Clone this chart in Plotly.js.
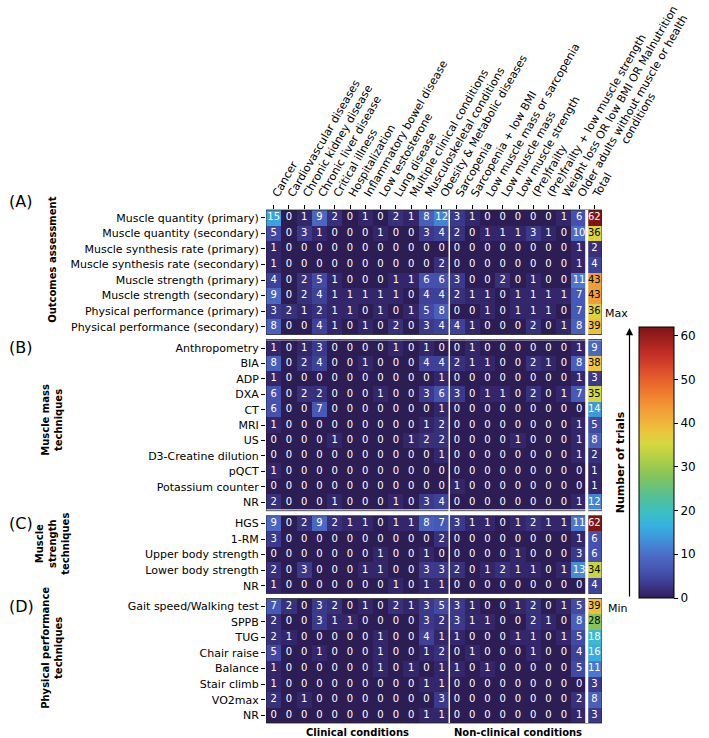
<!DOCTYPE html>
<html>
<head>
<meta charset="utf-8">
<script src="https://cdn.plot.ly/plotly-3.0.1.min.js"></script>
<style>html,body{margin:0;padding:0;background:#fff;}#chart{width:709px;height:738px;}</style>
</head>
<body>
<div id="chart"></div>
<script>
// ---------- data ----------
const columns = ["Cancer","Cardiovascular diseases","Chronic kidney disease","Chronic liver disease","Critical illness","Hospitalization","Inflammatory bowel disease","Low testosterone","Lung disease","Multiple clinical conditions","Musculoskeletal conditions","Obesity & Metabolic diseases","Sarcopenia","Sarcopenia + low BMI","Low muscle mass or sarcopenia","Low muscle mass","Low muscle strength","(Pre)frailty","(Pre)frailty + low muscle strength","Weight loss OR low BMI OR Malnutrition","Older adults without muscle or health","Total"];
const columnSecondLines = {20: "conditions"};

const outcomesRows = ["Muscle quantity (primary)","Muscle quantity (secondary)","Muscle synthesis rate (primary)","Muscle synthesis rate (secondary)","Muscle strength (primary)","Muscle strength (secondary)","Physical performance (primary)","Physical performance (secondary)"];
const outcomesValues = [
  [15,0,1,9,2,0,1,0,2,1,8,12, 3,1,0,0,0,0,0,1,6, 62],
  [5,0,3,1,0,0,0,1,0,0,3,4, 2,0,1,1,1,3,1,0,10, 36],
  [1,0,0,0,0,0,0,0,0,0,0,0, 0,0,0,0,0,0,0,0,1, 2],
  [1,0,0,0,0,0,0,0,0,0,0,2, 0,0,0,0,0,0,0,0,1, 4],
  [4,0,2,5,1,0,0,0,1,1,6,6, 3,0,0,2,0,1,0,0,11, 43],
  [9,0,2,4,1,1,1,1,1,0,4,4, 2,1,1,0,1,1,1,1,7, 43],
  [3,2,1,2,1,1,0,1,0,1,5,8, 0,0,1,0,1,1,1,0,7, 36],
  [8,0,0,4,1,0,1,0,2,0,3,4, 4,1,0,0,0,2,0,1,8, 39]
];

const massRows = ["Anthropometry","BIA","ADP","DXA","CT","MRI","US","D3-Creatine dilution","pQCT","Potassium counter","NR"];
const massValues = [
  [1,0,1,3,0,0,0,0,1,0,1,0, 0,1,0,0,0,0,0,0,1, 9],
  [8,0,2,4,0,0,1,0,0,0,4,4, 2,1,1,0,0,2,1,0,8, 38],
  [1,0,0,0,0,0,0,0,0,0,0,1, 0,0,0,0,0,0,0,0,1, 3],
  [6,0,2,2,0,0,0,1,0,0,3,6, 3,0,1,1,0,2,0,1,7, 35],
  [6,0,0,7,0,0,0,0,0,0,0,1, 0,0,0,0,0,0,0,0,0, 14],
  [1,0,0,0,0,0,0,0,0,0,1,2, 0,0,0,0,0,0,0,0,1, 5],
  [0,0,0,0,1,0,0,0,0,1,2,2, 0,0,0,0,1,0,0,0,1, 8],
  [0,0,0,0,0,0,0,0,0,0,0,1, 0,0,0,0,0,0,0,0,1, 2],
  [1,0,0,0,0,0,0,0,0,0,0,0, 0,0,0,0,0,0,0,0,0, 1],
  [0,0,0,0,0,0,0,0,0,0,0,0, 1,0,0,0,0,0,0,0,0, 1],
  [2,0,0,0,1,0,0,0,1,0,3,4, 0,0,0,0,0,0,0,0,1, 12]
];

const strengthRows = ["HGS","1-RM","Upper body strength","Lower body strength","NR"];
const strengthValues = [
  [9,0,2,9,2,1,1,0,1,1,8,7, 3,1,1,0,1,2,1,1,11, 62],
  [3,0,0,0,0,0,0,0,0,0,0,2, 0,0,0,0,0,0,0,0,1, 6],
  [0,0,0,0,0,0,0,1,0,0,1,0, 0,0,0,0,1,0,0,0,3, 6],
  [2,0,3,0,0,0,1,1,0,0,3,3, 2,0,1,2,1,1,0,1,13, 34],
  [1,0,0,0,0,0,0,0,1,0,1,1, 0,0,0,0,0,0,0,0,0, 4]
];

const perfRows = ["Gait speed/Walking test","SPPB","TUG","Chair raise","Balance","Stair climb","VO2max","NR"];
const perfValues = [
  [7,2,0,3,2,0,1,0,2,1,3,5, 3,1,0,0,1,2,0,1,5, 39],
  [2,0,0,3,1,1,0,0,0,0,3,2, 3,1,1,0,0,2,1,0,8, 28],
  [2,1,0,0,0,0,0,1,0,0,4,1, 1,0,0,0,1,1,0,1,5, 18],
  [5,0,0,1,0,0,0,1,0,0,1,2, 0,1,0,0,0,1,0,0,4, 16],
  [1,0,0,0,0,0,0,1,0,1,0,1, 1,0,1,0,0,0,0,0,5, 11],
  [1,0,0,0,0,0,0,0,0,0,1,1, 0,0,0,0,0,0,0,0,0, 3],
  [2,0,1,0,0,0,0,0,0,0,0,3, 0,0,0,0,0,0,0,0,2, 8],
  [0,0,0,0,0,0,0,0,0,0,1,1, 0,0,0,0,0,0,0,0,1, 3]
];

const groupLetters = ["(A)","(B)","(C)","(D)"];
const groupTitles = ["Outcomes assessment","Muscle mass<br>techniques","Muscle<br>strength<br>techniques","Physical performance<br>techniques"];
const bottomLabels = ["Clinical conditions","Non-clinical conditions"];
const colorbarTicks = [0,10,20,30,40,50,60];

// ---------- styling ----------
const colorscale = [
  [0.00,'#2d1d55'],[0.016,'#34266a'],[0.05,'#3b3a8e'],[0.10,'#4553b0'],
  [0.16,'#4b6ec8'],[0.22,'#3f95dc'],[0.27,'#36b2e0'],[0.32,'#3cc0c0'],
  [0.38,'#55c090'],[0.45,'#85c45a'],[0.52,'#b5d044'],[0.57,'#d6d83e'],
  [0.62,'#eec23c'],[0.69,'#f2a038'],[0.76,'#ef7a2e'],[0.83,'#e0522a'],
  [0.90,'#c42e26'],[1.00,'#7e1414']
];
const W = 709, H = 738;
const M = {l:266, r:101, t:210, b:15};
const plotW = W - M.l - M.r, plotH = H - M.t - M.b;
const gapPx = 5;
const groups = [
  {rows: outcomesRows, vals: outcomesValues},
  {rows: massRows, vals: massValues},
  {rows: strengthRows, vals: strengthValues},
  {rows: perfRows, vals: perfValues}
];
const totalRows = groups.reduce((s,g)=>s+g.rows.length,0);
const rowPx = (plotH - gapPx*(groups.length-1)) / totalRows;
const colPx = plotW / columns.length;

const xIdx = columns.map((_,i)=>i);
const traces = [];
const layout = {
  width: W, height: H, margin: M,
  paper_bgcolor: '#fff', plot_bgcolor: '#fff',
  font: {family: 'DejaVu Sans', size: 11, color: '#000'},
  showlegend: false,
  xaxis: {
    anchor: 'y', side: 'top', range: [-0.5, columns.length - 0.5],
    tickmode: 'array', tickvals: xIdx, ticktext: columns,
    tickangle: -60, ticks: 'outside', ticklen: 4, tickcolor: '#000',
    tickfont: {size: 11}, showgrid: false, zeroline: false, showline: false
  },
  shapes: [], annotations: []
};

let topPx = 0;
const pxToPaperY = px => 1 - px/plotH;   // px measured from plot top
groups.forEach((g, gi) => {
  const n = g.rows.length;
  const y0px = topPx, y1px = topPx + n*rowPx;
  const axName = gi === 0 ? 'yaxis' : 'yaxis' + (gi+1);
  const axRef = gi === 0 ? 'y' : 'y' + (gi+1);
  layout[axName] = {
    domain: [pxToPaperY(y1px), pxToPaperY(y0px)],
    anchor: 'x', type: 'category', autorange: 'reversed',
    ticks: 'outside', ticklen: 4, tickcolor: '#000', tickfont: {size: 11},
    showgrid: false, zeroline: false, showline: false
  };
  traces.push({
    type: 'heatmap', x: xIdx, y: g.rows, z: g.vals, xaxis: 'x', yaxis: axRef,
    colorscale: colorscale, zmin: 0, zmax: 62, showscale: gi === 0,
    hoverinfo: 'skip',
    colorbar: {
      x: (646 - M.l)/plotW, xanchor: 'left', y: pxToPaperY(462.5 - M.t), yanchor: 'middle',
      len: 271, lenmode: 'pixels', thickness: 35, thicknessmode: 'pixels',
      outlinewidth: 1, outlinecolor: '#000', ticks: 'outside', ticklen: 4, tickcolor: '#000',
      tickmode: 'array', tickvals: colorbarTicks, tickfont: {size: 12}, xpad: 0, ypad: 0
    }
  });
  const tx = [], ty = [], tt = [], tc = [];
  g.vals.forEach((row, ri) => row.forEach((v, ci) => {
    tx.push(ci); ty.push(g.rows[ri]); tt.push(String(v));
    tc.push(v >= 25 && v <= 50 ? '#000' : '#fff');
  }));
  traces.push({
    type: 'scatter', mode: 'text', x: tx, y: ty, text: tt, xaxis: 'x', yaxis: axRef,
    textfont: {size: 10, color: tc, family: 'DejaVu Sans'}, hoverinfo: 'skip', cliponaxis: false
  });
  layout.shapes.push({type: 'rect', xref: 'x', yref: 'paper', x0: -0.5, x1: columns.length - 0.5,
    y0: pxToPaperY(y1px), y1: pxToPaperY(y0px), line: {color: '#222', width: 0.8}, fillcolor: 'rgba(0,0,0,0)'});
  const firstRowPx = y0px + rowPx/2;
  layout.annotations.push({
    text: groupLetters[gi], xref: 'paper', yref: 'paper',
    x: (2 - M.l)/plotW, xanchor: 'left',
    y: pxToPaperY(gi === 0 ? firstRowPx - 16 : firstRowPx), yanchor: 'middle',
    showarrow: false, font: {size: 16}
  });
  topPx = y1px + gapPx;
});

// second line of a two-line column label, centred one line below the first
Object.keys(columnSecondLines).forEach(k => {
  const ci = +k;
  const labelLen = 208;           // length of first line at 11px
  const ang = 60 * Math.PI/180;
  const sx = M.l + (ci + 0.5)*colPx - 3, sy = M.t - 8;
  const cx = sx + (labelLen/2)*Math.cos(ang) + 13*Math.sin(ang);
  const cy = sy - (labelLen/2)*Math.sin(ang) + 13*Math.cos(ang);
  layout.annotations.push({
    text: columnSecondLines[k], xref: 'paper', yref: 'paper',
    x: (cx - M.l)/plotW, y: 1 + (M.t - cy)/plotH, xanchor: 'center', yanchor: 'middle',
    textangle: -60, showarrow: false, font: {size: 11}
  });
});

// group titles (vertical, bold)
const titleY = [260, 420, 544, 648];
groupTitles.forEach((t, i) => {
  layout.annotations.push({
    text: '<b>' + t + '</b>', xref: 'paper', yref: 'paper',
    x: (48 - M.l)/plotW, xanchor: 'center', y: pxToPaperY(titleY[i] - M.t), yanchor: 'middle',
    textangle: -90, showarrow: false, font: {size: 10}, align: 'center'
  });
});

layout.shapes.push({type: 'line', xref: 'x', yref: 'paper', x0: 11.5, x1: 11.5, y0: 0, y1: 1,
  line: {color: '#fff', width: 1.5}});
layout.shapes.push({type: 'line', xref: 'x', yref: 'paper', x0: 20.5, x1: 20.5, y0: 0, y1: 1,
  line: {color: '#fff', width: 3}});

layout.annotations.push({text: '<b>' + bottomLabels[0] + '</b>', xref: 'x', yref: 'paper',
  x: 5.5, y: pxToPaperY(732 - M.t), yanchor: 'middle', showarrow: false, font: {size: 10}});
layout.annotations.push({text: '<b>' + bottomLabels[1] + '</b>', xref: 'x', yref: 'paper',
  x: 16, y: pxToPaperY(732 - M.t), yanchor: 'middle', showarrow: false, font: {size: 10}});

const arrowX = (636 - M.l)/plotW;
layout.annotations.push({text: '', xref: 'paper', yref: 'paper', x: arrowX, y: pxToPaperY(328 - M.t),
  showarrow: true, ax: 0, ay: 270, axref: 'pixel', ayref: 'pixel', arrowhead: 2, arrowsize: 1.2,
  arrowwidth: 1.2, arrowcolor: '#000'});
layout.annotations.push({text: 'Max', xref: 'paper', yref: 'paper', x: arrowX, y: pxToPaperY(322 - M.t),
  yanchor: 'bottom', showarrow: false, font: {size: 11}});
layout.annotations.push({text: 'Min', xref: 'paper', yref: 'paper', x: arrowX, y: pxToPaperY(600 - M.t),
  yanchor: 'top', showarrow: false, font: {size: 11}});
layout.annotations.push({text: '<b>Number of trials</b>', xref: 'paper', yref: 'paper',
  x: (627 - M.l)/plotW, xanchor: 'center', y: pxToPaperY(462.5 - M.t), yanchor: 'middle',
  textangle: -90, showarrow: false, font: {size: 11}});

Plotly.newPlot('chart', traces, layout, {displayModeBar: false, staticPlot: true});
</script>
</body>
</html>
